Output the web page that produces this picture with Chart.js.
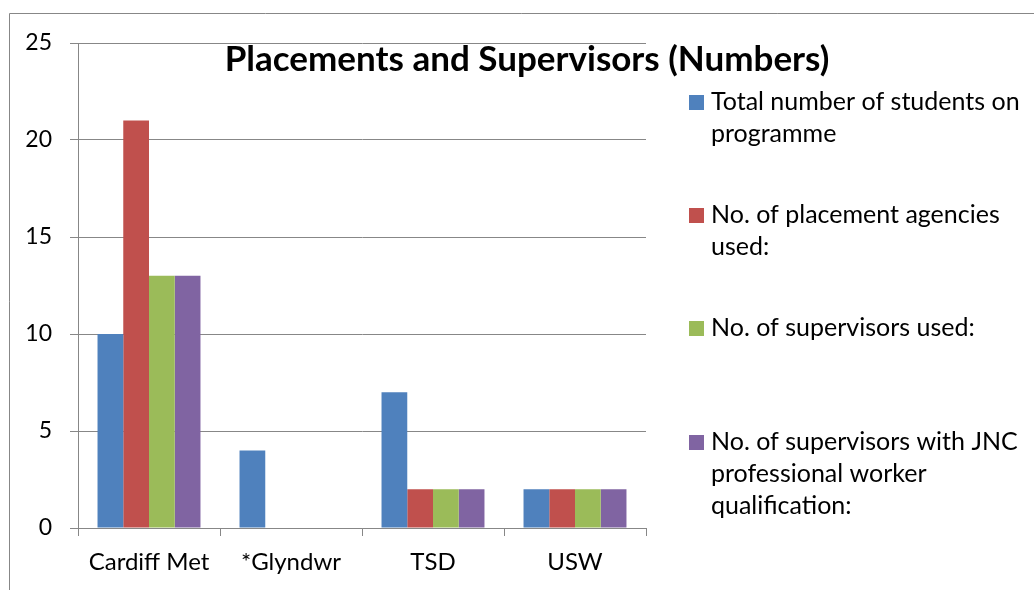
<!DOCTYPE html>
<html>
<head>
<meta charset="utf-8">
<script src="https://cdn.jsdelivr.net/npm/chart.js@4/dist/chart.umd.min.js"></script>
<style>
  html, body { margin: 0; padding: 0; background: #fff; }
  #wrap { width: 1034px; height: 590px; position: relative; }
</style>
</head>
<body>
<div id="wrap"><canvas id="chart"></canvas></div>
<script>
// ========== DATA ==========
const categories = ["Cardiff Met", "*Glyndwr", "TSD", "USW"];
const totalStudents = [10, 4, 7, 2];
const placementAgencies = [21, 0, 2, 2];
const supervisorsUsed = [13, 0, 2, 2];
const supervisorsJNC = [13, 0, 2, 2];
const yTicks = [0, 5, 10, 15, 20, 25];

// legend text, split the way it wraps in the picture
const seriesLabels = [
  ["Total number of students on", "programme"],
  ["No. of placement agencies", "used:"],
  ["No. of supervisors used:"],
  ["No. of supervisors with JNC", "professional worker", "qualification:"]
];
const seriesColors = ["#4F81BD", "#C0504D", "#9BBB59", "#8064A2"];
const chartTitle = "Placements and Supervisors (Numbers)";

const FONT = "Lato, 'Open Sans', sans-serif";
const GRAY = "#878787";

// ========== PLUGINS ==========
// outer frame (only top and left edges are inside the picture)
const framePlugin = {
  id: "frame",
  beforeDraw(chart) {
    const ctx = chart.ctx;
    ctx.save();
    ctx.strokeStyle = GRAY;
    ctx.lineWidth = 1;
    ctx.beginPath();
    ctx.moveTo(9.5, 590);
    ctx.lineTo(9.5, 13.5);
    ctx.lineTo(1034, 13.5);
    ctx.stroke();
    ctx.restore();
  }
};

// title sits inside the plot area, so it is drawn by hand
const titlePlugin = {
  id: "overTitle",
  afterDraw(chart) {
    const ctx = chart.ctx;
    ctx.save();
    ctx.font = "bold 35px " + FONT;
    ctx.fillStyle = "#000";
    ctx.textAlign = "center";
    ctx.textBaseline = "middle";
    ctx.fillText(chartTitle, 527, 60);
    ctx.restore();
  }
};

// multi-line legend on the right
const legendPlugin = {
  id: "sideLegend",
  afterDraw(chart) {
    const ctx = chart.ctx;
    ctx.save();
    ctx.font = "25px " + FONT;
    ctx.textBaseline = "middle";
    ctx.textAlign = "left";
    const tops = [102, 215, 328, 442];
    chart.data.datasets.forEach((ds, i) => {
      const y = tops[i];
      ctx.fillStyle = ds.backgroundColor;
      ctx.fillRect(689, y - 7, 15, 15);
      ctx.fillStyle = "#000";
      seriesLabels[i].forEach((line, j) => {
        ctx.fillText(line, 711, y + j * 32);
      });
    });
    ctx.restore();
  }
};

// ========== CHART ==========
const seriesValues = [totalStudents, placementAgencies, supervisorsUsed, supervisorsJNC];

new Chart(document.getElementById("chart"), {
  type: "bar",
  data: {
    labels: categories,
    datasets: seriesValues.map((vals, i) => ({
      label: seriesLabels[i].join(" "),
      data: vals,
      backgroundColor: seriesColors[i],
      borderWidth: 0
    }))
  },
  options: {
    responsive: true,
    maintainAspectRatio: false,
    animation: false,
    layout: { padding: { top: 43, right: 388, bottom: 0, left: 0 } },
    datasets: { bar: { categoryPercentage: 0.725, barPercentage: 1 } },
    plugins: {
      legend: { display: false },
      title: { display: false },
      tooltip: { enabled: false }
    },
    scales: {
      x: {
        grid: {
          offset: true,
          drawOnChartArea: false,
          drawTicks: true,
          tickLength: 8,
          color: GRAY
        },
        border: { display: true, color: GRAY },
        ticks: {
          color: "#000",
          font: { family: FONT, size: 24 },
          padding: 12
        },
        afterFit(scale) { scale.height = 62; }
      },
      y: {
        min: 0,
        max: 25,
        afterBuildTicks(scale) { scale.ticks = yTicks.map(v => ({ value: v })); },
        grid: {
          color: GRAY,
          drawTicks: true,
          tickLength: 8
        },
        border: { display: true, color: GRAY },
        ticks: {
          color: "#000",
          font: { family: FONT, size: 23 },
          padding: 18
        },
        afterFit(scale) { scale.width = 78; }
      }
    }
  },
  plugins: [framePlugin, titlePlugin, legendPlugin]
});
</script>
</body>
</html>
